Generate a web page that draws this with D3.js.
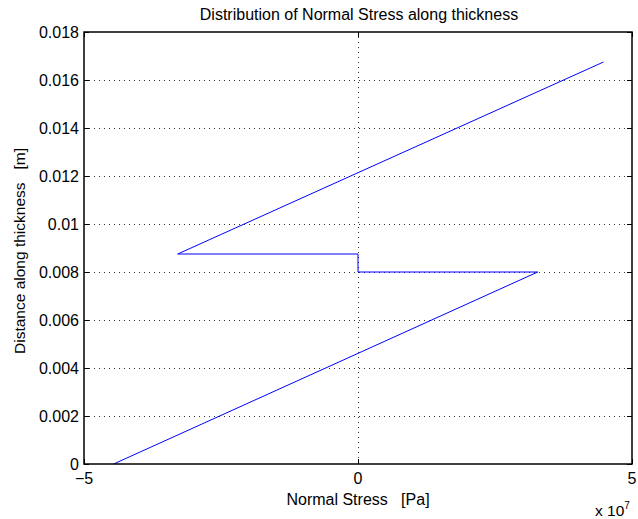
<!DOCTYPE html>
<html lang="en">
<head>
    <meta charset="UTF-8">
    <title>Normal Stress</title>
    <script src="https://cdn.jsdelivr.net/npm/d3@7"></script>
    <style>
        body { margin: 0; background: #fff; }
        text { font-family: "Liberation Sans", Arial, sans-serif; fill: #000; }
    </style>
</head>
<body>
<script>

    // stress profile through the two layers (x in Pa, y in m)
    const stress = [-4.46e7, 3.28e7, 0, 0, -3.29e7, 4.48e7];
    const depth = [0, 0.008, 0.008, 0.00875, 0.00875, 0.01675];

    const x_ticks = [-5e7, 0, 5e7];
    const x_tick_labels = ["\u22125", "0", "5"];
    const y_ticks = [0, 0.002, 0.004, 0.006, 0.008, 0.01, 0.012, 0.014, 0.016, 0.018];
    const y_tick_labels = ["0", "0.002", "0.004", "0.006", "0.008", "0.01", "0.012", "0.014", "0.016", "0.018"];

    const width = 638;
    const height = 519;
    const m = {left: 84, right: 632, top: 32, bottom: 464};

    const svg = d3.select("body").append("svg").attr("width", width).attr("height", height);

    const x = d3.scaleLinear().domain([-5e7, 5e7]).range([m.left, m.right]);
    const y = d3.scaleLinear().domain([0, 0.018]).range([m.bottom, m.top]);

    // grid
    const grid = svg.append("g")
        .attr("stroke", "#333")
        .attr("stroke-width", 1)
        .attr("stroke-dasharray", "1,4");

    grid.selectAll("line.h")
        .data(y_ticks.slice(1, -1))
        .join("line")
        .attr("class", "h")
        .attr("x1", m.left).attr("x2", m.right)
        .attr("y1", d => Math.round(y(d)) + 0.5).attr("y2", d => Math.round(y(d)) + 0.5);

    grid.selectAll("line.v")
        .data(x_ticks.slice(1, -1))
        .join("line")
        .attr("class", "v")
        .attr("y1", m.top).attr("y2", m.bottom)
        .attr("x1", d => Math.round(x(d)) + 0.5).attr("x2", d => Math.round(x(d)) + 0.5);

    // ticks on all four sides, pointing in
    const tk = svg.append("g").attr("stroke", "#000").attr("stroke-width", 1);
    for (const t of y_ticks) {
        const yy = Math.round(y(t)) + 0.5;
        tk.append("line").attr("x1", m.left).attr("x2", m.left + 5).attr("y1", yy).attr("y2", yy);
        tk.append("line").attr("x1", m.right).attr("x2", m.right - 5).attr("y1", yy).attr("y2", yy);
    }
    for (const t of x_ticks) {
        const xx = Math.round(x(t)) + 0.5;
        tk.append("line").attr("y1", m.bottom).attr("y2", m.bottom - 5).attr("x1", xx).attr("x2", xx);
        tk.append("line").attr("y1", m.top).attr("y2", m.top + 5).attr("x1", xx).attr("x2", xx);
    }

    // data line
    const line = d3.line()
        .x(d => x(d[0]))
        .y(d => y(d[1]));

    svg.append("path")
        .datum(stress.map((s, i) => [s, depth[i]]))
        .attr("fill", "none")
        .attr("stroke", "#0000ff")
        .attr("stroke-width", 1)
        .attr("d", line);

    // box
    svg.append("rect")
        .attr("x", m.left).attr("y", m.top)
        .attr("width", m.right - m.left).attr("height", m.bottom - m.top)
        .attr("fill", "none")
        .attr("stroke", "#000")
        .attr("stroke-width", 1.5);

    // tick labels
    svg.append("g")
        .attr("font-size", 16)
        .attr("text-anchor", "end")
        .selectAll("text")
        .data(y_ticks)
        .join("text")
        .attr("x", m.left - 5)
        .attr("y", d => y(d))
        .attr("dy", "0.35em")
        .text((d, i) => y_tick_labels[i]);

    svg.append("g")
        .attr("font-size", 16)
        .attr("text-anchor", "middle")
        .selectAll("text")
        .data(x_ticks)
        .join("text")
        .attr("x", d => x(d))
        .attr("y", m.bottom + 20)
        .text((d, i) => x_tick_labels[i]);

    // titles
    svg.append("text")
        .attr("x", (m.left + m.right) / 2 + 1)
        .attr("y", 20)
        .attr("text-anchor", "middle")
        .attr("font-size", 16)
        .text("Distribution of Normal Stress along thickness");

    svg.append("text")
        .attr("x", (m.left + m.right) / 2)
        .attr("y", 505)
        .attr("text-anchor", "middle")
        .attr("font-size", 16)
        .attr("xml:space", "preserve")
        .text("Normal Stress   [Pa]");

    svg.append("text")
        .attr("transform", `translate(25,251) rotate(-90)`)
        .attr("text-anchor", "middle")
        .attr("font-size", 15.5)
        .attr("xml:space", "preserve")
        .text("Distance along thickness   [m]");

    const exp = svg.append("text")
        .attr("x", 595)
        .attr("y", 516)
        .attr("font-size", 15.5);
    exp.append("tspan").text("x 10");
    exp.append("tspan").attr("font-size", 10).attr("dy", -7).text("7");

</script>
</body>
</html>
